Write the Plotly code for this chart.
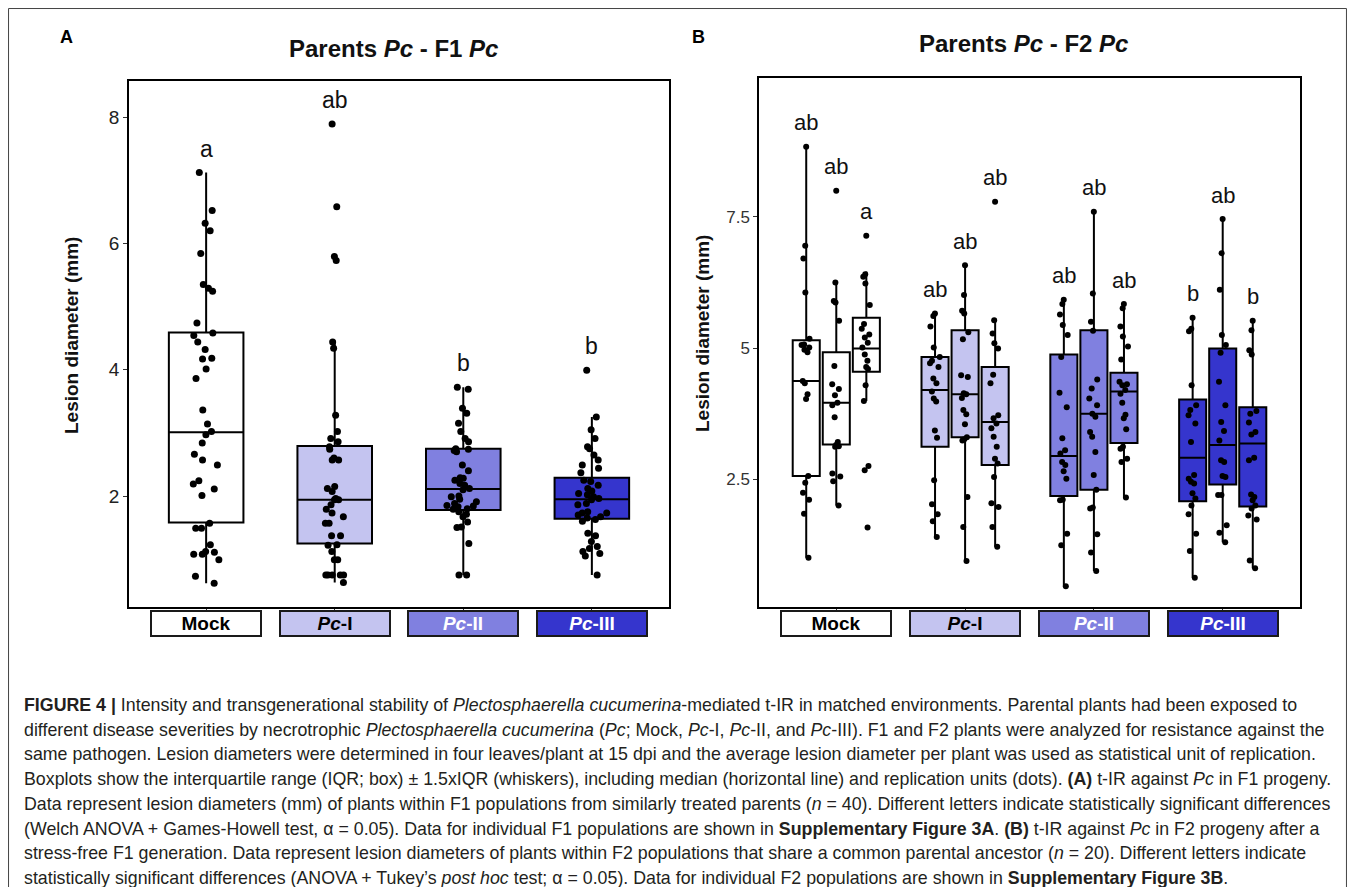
import plotly.graph_objects as go

# ---------------- data ----------------
CATEGORIES = ["Mock", "Pc-I", "Pc-II", "Pc-III"]
CATEGORY_LABELS = ["<b>Mock</b>", "<b><i>Pc</i>-I</b>", "<b><i>Pc</i>-II</b>", "<b><i>Pc</i>-III</b>"]
FILL_COLORS = ["#FFFFFF", "#C4C4F0", "#8080E0", "#3535CD"]
LABEL_TEXT_COLORS = ["#000000", "#000000", "#FFFFFF", "#FFFFFF"]

# Panel A: F1 lesion diameters (mm), n = 40 per group
A_MOCK = [7.12, 6.52, 6.32, 6.20, 5.84, 5.35, 5.29, 5.24, 4.74, 4.58, 4.54, 4.44, 4.32, 4.18, 4.17,
          4.01, 3.86, 3.36, 3.14, 3.02, 2.97, 2.84, 2.66, 2.57, 2.49, 2.24, 2.19, 2.11, 2.01, 1.57,
          1.49, 1.49, 1.23, 1.12, 1.11, 1.08, 1.08, 0.99, 0.73, 0.62]
A_PC1 = [7.89, 6.58, 5.79, 5.73, 4.44, 4.34, 3.28, 3.02, 2.91, 2.86, 2.78, 2.74, 2.60, 2.57, 2.57,
         2.15, 2.12, 2.07, 1.96, 1.94, 1.94, 1.86, 1.79, 1.73, 1.67, 1.57, 1.57, 1.37, 1.37, 1.23,
         1.22, 1.12, 0.99, 0.99, 0.75, 0.75, 0.75, 0.75, 0.75, 0.63]
A_PC2 = [3.72, 3.69, 3.39, 3.31, 3.15, 3.02, 2.91, 2.86, 2.75, 2.74, 2.72, 2.70, 2.49, 2.40, 2.29,
         2.28, 2.25, 2.20, 2.17, 2.12, 2.10, 2.00, 1.99, 1.95, 1.91, 1.88, 1.85, 1.84, 1.83, 1.80,
         1.79, 1.75, 1.71, 1.67, 1.59, 1.51, 1.50, 1.25, 0.75, 0.75]
A_PC3 = [3.99, 3.25, 3.05, 2.91, 2.78, 2.75, 2.65, 2.57, 2.49, 2.44, 2.37, 2.25, 2.23, 2.17, 2.12,
         2.08, 2.04, 2.02, 1.99, 1.96, 1.94, 1.88, 1.86, 1.75, 1.73, 1.73, 1.70, 1.67, 1.65, 1.63,
         1.60, 1.41, 1.37, 1.28, 1.20, 1.17, 1.12, 1.09, 1.05, 0.75]
A_Q1 = [1.58, 1.25, 1.78, 1.64]
A_MEDIAN = [3.01, 1.94, 2.11, 1.95]
A_Q3 = [4.59, 2.79, 2.75, 2.29]
A_LOWER = [0.62, 0.63, 0.75, 0.75]
A_UPPER = [7.12, 4.44, 3.72, 3.25]
A_LETTERS = ["a", "ab", "b", "b"]

# Panel B: F2 lesion diameters (mm), 3 populations x n = 20 per group
B_MOCK_1 = [8.84, 6.95, 6.71, 6.06, 5.18, 5.07, 5.06, 5.01, 4.97, 4.92, 4.37, 4.33, 4.12, 4.03, 2.56, 2.43, 2.24, 2.11, 1.84, 1.00]
B_MOCK_2 = [8.00, 6.25, 5.90, 5.87, 5.52, 4.66, 4.31, 4.22, 4.10, 3.96, 3.91, 3.68, 3.21, 3.15, 3.13, 3.12, 2.61, 2.55, 2.46, 2.00]
B_MOCK_3 = [7.14, 6.41, 6.36, 6.23, 5.82, 5.46, 5.37, 5.26, 5.20, 5.10, 5.01, 4.88, 4.76, 4.64, 4.60, 4.29, 3.99, 2.75, 2.67, 1.58]
B_PC1_1 = [5.66, 5.61, 5.41, 5.01, 4.83, 4.76, 4.71, 4.64, 4.42, 4.33, 4.17, 4.04, 3.98, 3.43, 3.29, 2.48, 2.02, 1.83, 1.70, 1.40]
B_PC1_2 = [6.58, 6.01, 5.71, 5.66, 5.30, 5.17, 4.48, 4.45, 4.14, 4.12, 4.05, 3.82, 3.74, 3.55, 3.30, 3.26, 3.24, 2.16, 1.59, 0.94]
B_PC1_3 = [7.79, 5.53, 5.28, 5.09, 4.99, 4.49, 4.33, 3.72, 3.66, 3.56, 3.47, 3.31, 3.12, 2.89, 2.80, 2.54, 2.04, 1.97, 1.59, 1.21]
B_PC2_1 = [5.92, 5.84, 5.64, 5.44, 5.25, 4.83, 4.15, 3.87, 3.28, 3.05, 2.99, 2.83, 2.77, 2.65, 2.51, 2.11, 2.10, 1.46, 1.24, 0.46]
B_PC2_2 = [7.60, 6.04, 5.50, 5.33, 4.40, 4.23, 4.04, 3.91, 3.75, 3.69, 3.40, 3.31, 3.02, 2.58, 2.30, 1.96, 1.94, 1.45, 1.10, 0.75]
B_PC2_3 = [5.84, 5.76, 5.41, 5.22, 5.03, 4.78, 4.36, 4.31, 4.29, 4.20, 4.13, 3.96, 3.73, 3.66, 3.45, 3.12, 3.08, 2.89, 2.83, 2.15]
B_PC3_1 = [5.58, 5.37, 5.32, 4.29, 3.91, 3.82, 3.72, 3.56, 3.21, 2.58, 2.51, 2.45, 2.42, 2.23, 2.13, 2.00, 1.83, 1.46, 1.13, 0.62]
B_PC3_2 = [7.46, 6.81, 6.11, 5.25, 5.06, 4.91, 4.36, 3.91, 3.59, 3.42, 3.24, 2.86, 2.83, 2.56, 2.54, 2.20, 2.20, 1.62, 1.48, 1.30]
B_PC3_3 = [5.52, 5.34, 4.96, 4.88, 3.80, 3.75, 3.58, 3.40, 3.35, 2.91, 2.86, 2.21, 2.16, 2.10, 2.00, 1.94, 1.81, 1.73, 0.95, 0.80]
B_Q1 = [[2.56, 3.16, 4.55], [3.12, 3.30, 2.77], [2.18, 2.30, 3.19], [2.08, 2.40, 1.98]]
B_MEDIAN = [[4.37, 3.96, 4.99], [4.20, 4.12, 3.59], [2.94, 3.75, 4.17], [2.91, 3.15, 3.18]]
B_Q3 = [[5.15, 4.92, 5.58], [4.83, 5.34, 4.64], [4.88, 5.34, 4.53], [4.02, 4.99, 3.87]]
B_LOWER = [[1.00, 2.00, 3.99], [1.40, 0.94, 1.21], [0.46, 0.75, 2.15], [0.62, 1.30, 0.80]]
B_UPPER = [[8.84, 6.25, 6.46], [5.66, 6.58, 5.57], [5.92, 7.60, 5.85], [5.58, 7.46, 5.52]]
B_LETTERS = [["ab", "ab", "a"], ["ab", "ab", "ab"], ["ab", "ab", "ab"], ["b", "ab", "b"]]

A_TICKS = [2, 4, 6, 8]
B_TICKS = [2.5, 5, 7.5]
B_TICK_LABELS = ["2.5", "5", "7.5"]

CAPTION_LINES = [
    "<b>FIGURE 4 |</b> Intensity and transgenerational stability of <i>Plectosphaerella cucumerina</i>-mediated t-IR in matched environments. Parental plants had been exposed to",
    "different disease severities by necrotrophic <i>Plectosphaerella cucumerina</i> (<i>Pc</i>; Mock, <i>Pc</i>-I, <i>Pc</i>-II, and <i>Pc</i>-III). F1 and F2 plants were analyzed for resistance against the",
    "same pathogen. Lesion diameters were determined in four leaves/plant at 15 dpi and the average lesion diameter per plant was used as statistical unit of replication.",
    "Boxplots show the interquartile range (IQR; box) ± 1.5xIQR (whiskers), including median (horizontal line) and replication units (dots). <b>(A)</b> t-IR against <i>Pc</i> in F1 progeny.",
    "Data represent lesion diameters (mm) of plants within F1 populations from similarly treated parents (<i>n</i> = 40). Different letters indicate statistically significant differences",
    "(Welch ANOVA + Games-Howell test, α = 0.05). Data for individual F1 populations are shown in <b>Supplementary Figure 3A</b>. <b>(B)</b> t-IR against <i>Pc</i> in F2 progeny after a",
    "stress-free F1 generation. Data represent lesion diameters of plants within F2 populations that share a common parental ancestor (<i>n</i> = 20). Different letters indicate",
    "statistically significant differences (ANOVA + Tukey’s <i>post hoc</i> test; α = 0.05). Data for individual F2 populations are shown in <b>Supplementary Figure 3B</b>.",
]

A_GROUPS = [A_MOCK, A_PC1, A_PC2, A_PC3]
B_GROUPS = [[B_MOCK_1, B_MOCK_2, B_MOCK_3], [B_PC1_1, B_PC1_2, B_PC1_3],
            [B_PC2_1, B_PC2_2, B_PC2_3], [B_PC3_1, B_PC3_2, B_PC3_3]]

# ---------------- layout helpers ----------------
W, H = 1339, 879
FONT = "Liberation Sans, Arial, Helvetica, sans-serif"
BOXGAP = 0.3


def px(x):
    return (x - 8) / W


def py(y):
    return 1 - (y - 8) / H


fig = go.Figure()

# Panel A boxes
for i, cat in enumerate(CATEGORIES):
    fig.add_trace(go.Box(
        x=[cat], q1=[A_Q1[i]], median=[A_MEDIAN[i]], q3=[A_Q3[i]],
        lowerfence=[A_LOWER[i]], upperfence=[A_UPPER[i]],
        fillcolor=FILL_COLORS[i], line=dict(color="black", width=2), whiskerwidth=0,
        boxpoints=False, offsetgroup="A", alignmentgroup="A", width=0.58,
        xaxis="x", yaxis="y", showlegend=False, hoverinfo="skip"))
for i, cat in enumerate(CATEGORIES):
    vals = A_GROUPS[i]
    fig.add_trace(go.Box(
        x=[cat] * len(vals), y=vals, boxpoints="all", jitter=0.45, pointpos=0,
        fillcolor="rgba(0,0,0,0)", line=dict(color="rgba(0,0,0,0)", width=0),
        marker=dict(color="black", size=7), offsetgroup="A", alignmentgroup="A", width=0.58,
        xaxis="x", yaxis="y", showlegend=False))

# Panel B boxes
for i, cat in enumerate(CATEGORIES):
    for k in range(3):
        fig.add_trace(go.Box(
            x=[cat], q1=[B_Q1[i][k]], median=[B_MEDIAN[i][k]], q3=[B_Q3[i][k]],
            lowerfence=[B_LOWER[i][k]], upperfence=[B_UPPER[i][k]],
            fillcolor=FILL_COLORS[i], line=dict(color="black", width=2), whiskerwidth=0,
            boxpoints=False, offsetgroup=f"B{k}", alignmentgroup="B",
            xaxis="x2", yaxis="y2", showlegend=False, hoverinfo="skip"))
for i, cat in enumerate(CATEGORIES):
    for k in range(3):
        vals = B_GROUPS[i][k]
        fig.add_trace(go.Box(
            x=[cat] * len(vals), y=vals, boxpoints="all", jitter=0.4, pointpos=0,
            fillcolor="rgba(0,0,0,0)", line=dict(color="rgba(0,0,0,0)", width=0),
            marker=dict(color="black", size=6), offsetgroup=f"B{k}", alignmentgroup="B",
            xaxis="x2", yaxis="y2", showlegend=False))

annotations = []
# significance letters
for i, cat in enumerate(CATEGORIES):
    annotations.append(dict(x=i, y=max(A_GROUPS[i]), xref="x", yref="y", text=A_LETTERS[i],
                            showarrow=False, yshift=24, xanchor="center", yanchor="middle",
                            font=dict(family=FONT, size=23, color="#111")))
    for k in range(3):
        annotations.append(dict(x=i + (k - 1) * (1 - BOXGAP) / 3, y=max(B_GROUPS[i][k]),
                                xref="x2", yref="y2", text=B_LETTERS[i][k],
                                showarrow=False, yshift=24, xanchor="center", yanchor="middle",
                                font=dict(family=FONT, size=22, color="#111")))

# category label boxes
for xr, yr in (("x", "y domain"), ("x2", "y2 domain")):
    for i, cat in enumerate(CATEGORIES):
        annotations.append(dict(x=i, y=0, xref=xr, yref=yr, xanchor="center", yanchor="top", yshift=-3,
                                text=CATEGORY_LABELS[i], showarrow=False,
                                width=108, height=23, borderpad=0, borderwidth=2,
                                bordercolor="#1a1a1a", bgcolor=FILL_COLORS[i],
                                font=dict(family=FONT, size=19, color=LABEL_TEXT_COLORS[i])))


def page_text(x, y, text, size, angle=0, color="#111"):
    return dict(x=px(x), y=py(y), xref="paper", yref="paper", showarrow=False,
                xanchor="center", yanchor="middle", textangle=angle, text=text,
                font=dict(family=FONT, size=size, color=color))


# titles, panel letters, axis titles
annotations += [
    page_text(393, 48, "<b>Parents <i>Pc</i> - F1 <i>Pc</i></b>", 24),
    page_text(1023, 44, "<b>Parents <i>Pc</i> - F2 <i>Pc</i></b>", 24),
    page_text(66, 37, "<b>A</b>", 18, color="#000"),
    page_text(698, 37, "<b>B</b>", 18, color="#000"),
    page_text(72, 336, "<b>Lesion diameter (mm)</b>", 19, angle=-90),
    page_text(702, 334, "<b>Lesion diameter (mm)</b>", 19, angle=-90),
]

# caption
for j, line in enumerate(CAPTION_LINES):
    annotations.append(dict(x=px(22), y=py(705 + 24.7 * j), xref="paper", yref="paper",
                            xanchor="left", yanchor="middle", showarrow=False, text=line,
                            align="left", font=dict(family=FONT, size=17.8, color="#231f20")))

axis_common = dict(showgrid=False, zeroline=False, showline=True, mirror=True,
                   linecolor="black", linewidth=1.5, ticks="outside", ticklen=4,
                   tickcolor="#333", tickwidth=1, fixedrange=True)

fig.update_layout(
    width=W, height=H, autosize=False,
    margin=dict(l=0, r=0, t=0, b=0, pad=0),
    paper_bgcolor="white", plot_bgcolor="white",
    boxmode="group", boxgap=BOXGAP, boxgroupgap=0.1,
    showlegend=False,
    xaxis=dict(domain=[px(129), px(669)], anchor="y", type="category",
               categoryorder="array", categoryarray=CATEGORIES, range=[-0.6, 3.6],
               showticklabels=False, **axis_common),
    yaxis=dict(domain=[py(607), py(81)], anchor="x", range=[0.243, 8.57],
               tickvals=A_TICKS, tickfont=dict(family=FONT, size=19, color="#222"), **axis_common),
    xaxis2=dict(domain=[px(759), px(1300)], anchor="y2", type="category",
                categoryorder="array", categoryarray=CATEGORIES, range=[-0.6, 3.6],
                showticklabels=False, **axis_common),
    yaxis2=dict(domain=[py(607), py(78)], anchor="x2", range=[0.063, 10.15],
                tickvals=B_TICKS, ticktext=B_TICK_LABELS,
                tickfont=dict(family=FONT, size=17, color="#333"), **axis_common),
    annotations=annotations,
    shapes=[dict(type="rect", xref="paper", yref="paper", x0=0.0004, x1=0.9996, y0=-0.01, y1=0.9994,
                 line=dict(color="#444", width=1))],
)

fig.write_html("out.html")
